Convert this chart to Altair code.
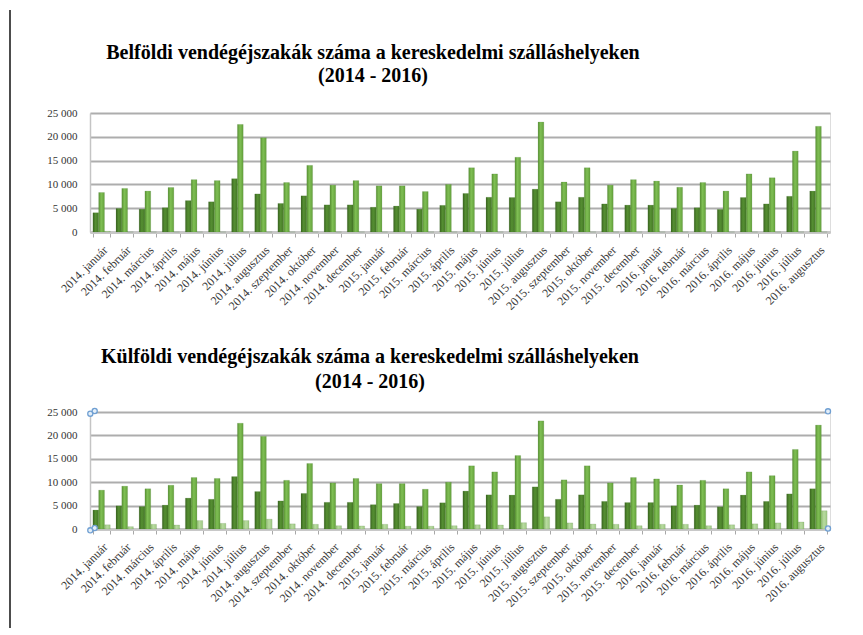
import altair as alt
import pandas as pd

months = [
    "2014. január", "2014. február", "2014. március", "2014. április", "2014. május",
    "2014. június", "2014. július", "2014. augusztus", "2014. szeptember", "2014. október",
    "2014. november", "2014. december",
    "2015. január", "2015. február", "2015. március", "2015. április", "2015. május",
    "2015. június", "2015. július", "2015. augusztus", "2015. szeptember", "2015. október",
    "2015. november", "2015. december",
    "2016. január", "2016. február", "2016. március", "2016. április", "2016. május",
    "2016. június", "2016. július", "2016. augusztus",
]

series_names = ["sorozat1", "sorozat2", "sorozat3"]

# Belföldi (top chart)
top_s1 = [4050, 4950, 4800, 5100, 6600, 6350, 11200, 8000, 6000, 7600, 5700, 5700,
          5200, 5450, 4800, 5600, 8100, 7300, 7250, 9000, 6350, 7300, 5900, 5650,
          5650, 4950, 5100, 4750, 7250, 5900, 7500, 8600]
top_s2 = [8300, 9150, 8600, 9350, 11000, 10800, 22600, 19800, 10400, 14000, 9850, 10800,
          9700, 9700, 8500, 10000, 13500, 12200, 15700, 23100, 10500, 13500, 9850, 11000,
          10700, 9400, 10400, 8600, 12200, 11400, 17000, 22200]
top_s3 = [150, 0, 0, 0, 0, 0, 0, 0, 0, 0, 0, 0,
          0, 0, 0, 0, 0, 0, 0, 0, 0, 0, 0, 0,
          0, 0, 0, 0, 0, 0, 0, 0]

# Külföldi (bottom chart)
bot_s1 = [4050, 4950, 4800, 5100, 6600, 6350, 11200, 8000, 6000, 7600, 5700, 5700,
          5200, 5450, 4800, 5600, 8100, 7300, 7250, 9000, 6350, 7300, 5900, 5650,
          5650, 4950, 5100, 4750, 7250, 5900, 7500, 8600]
bot_s2 = [8300, 9150, 8600, 9350, 11000, 10800, 22600, 19800, 10400, 14000, 9850, 10800,
          9700, 9700, 8500, 10000, 13500, 12200, 15700, 23100, 10500, 13500, 9850, 11000,
          10700, 9400, 10400, 8600, 12200, 11400, 17000, 22200]
bot_s3 = [900, 500, 1000, 850, 1800, 1200, 1800, 2100, 1100, 1000, 700, 650,
          1000, 600, 600, 700, 900, 850, 1350, 2600, 1300, 1050, 1000, 700,
          1000, 1000, 700, 900, 1100, 1300, 1500, 3900]

y_ticks = [0, 5000, 10000, 15000, 20000, 25000]

title_top = ["Belföldi vendégéjszakák száma a kereskedelmi szálláshelyeken", "(2014 - 2016)"]
title_bot = ["Külföldi vendégéjszakák száma a kereskedelmi szálláshelyeken", "(2014 - 2016)"]

one = pd.DataFrame({"k": [0]})


def long_df(s1, s2, s3):
    rows = []
    for name, vals in zip(series_names, [s1, s2, s3]):
        for m, v in zip(months, vals):
            rows.append({"hónap": m, "sorozat": name, "érték": v})
    return pd.DataFrame(rows)


def grad(c0, c1, c2):
    return alt.Gradient(
        gradient="linear", x1=0, x2=1, y1=0, y2=0,
        stops=[alt.GradientStop(color=c0, offset=0),
               alt.GradientStop(color=c1, offset=0.45),
               alt.GradientStop(color=c2, offset=1)],
    )


fills = {
    "sorozat1": grad("#3a6420", "#558f32", "#467828"),
    "sorozat2": grad("#5a9334", "#7fbf54", "#65a23d"),
    "sorozat3": grad("#92bf74", "#b8dba0", "#a0c986"),
}


def title_marks(lines, tx, ty1, ty2):
    out = []
    for line, ty in zip(lines, [ty1, ty2]):
        out.append(
            alt.Chart(one).mark_text(
                text=line, font="Liberation Serif", fontSize=20, fontWeight="bold",
                color="#000000", align="center", baseline="alphabetic",
            ).encode(x=alt.value(tx), y=alt.value(ty))
        )
    return out


def panel(df, height, extra=()):
    x = alt.X(
        "hónap:N", sort=months, title=None,
        scale=alt.Scale(paddingInner=0.25, paddingOuter=0.125),
        axis=alt.Axis(
            labelAngle=-45, labelFont="Liberation Serif", labelFontSize=12,
            labelColor="#3a3a3a", tickBand="extent", ticks=True, tickColor="#a8a8a8",
            tickSize=5, domainColor="#c8c8c8", domainWidth=3, grid=False, labelPadding=7,
        ),
    )
    y = alt.Y(
        "érték:Q", title=None, scale=alt.Scale(domain=[0, 25000]),
        axis=alt.Axis(
            values=y_ticks, grid=True, gridColor="#adadad", gridWidth=1.8,
            domain=True, domainColor="#c4c4c4", domainWidth=1.5, ticks=False,
            labelFont="Liberation Serif", labelFontSize=11, labelColor="#333333",
            labelPadding=13,
            labelExpr="datum.value == 0 ? '0' : floor(datum.value / 1000) + ' 000'",
        ),
    )
    xo = alt.XOffset("sorozat:N", sort=series_names, scale=alt.Scale(paddingInner=0))
    layers = []
    for s in series_names:
        layers.append(
            alt.Chart(df).transform_filter(alt.datum.sorozat == s)
            .mark_bar(color=fills[s], stroke="#3f6b26", strokeWidth=0.3, strokeOpacity=0.5)
            .encode(x=x, y=y, xOffset=xo)
        )
    return alt.layer(*layers, *extra).properties(width=740, height=height)


handles = []
for hx, hy in [(0.3, 118.3), (4.7, 116), (0.3, 1.7), (4.7, -1), (738, -0.7), (738, 116.5)]:
    handles.append(
        alt.Chart(one).mark_point(filled=False, stroke="#6f9fd2", fill="#e3eef8",
                                  strokeWidth=1.3, size=26, opacity=1)
        .encode(x=alt.value(hx), y=alt.value(hy))
    )
frame = alt.Chart(one).mark_rule(color="#000000", strokeWidth=1.4).encode(
    x=alt.value(-80), y=alt.value(-402), y2=alt.value(216)
)

top = panel(long_df(top_s1, top_s2, top_s3), 119,
            extra=title_marks(title_top, 283, -54, -31))
bottom = panel(long_df(bot_s1, bot_s2, bot_s3), 117,
               extra=[*title_marks(title_bot, 280, -49, -24), frame, *handles])

chart = alt.vconcat(top, bottom, spacing=180, bounds="flush").properties(
    padding=0
).configure_view(stroke=None).configure(background="white")

chart.save("out.html", embed_options={"renderer": "svg", "actions": False})
